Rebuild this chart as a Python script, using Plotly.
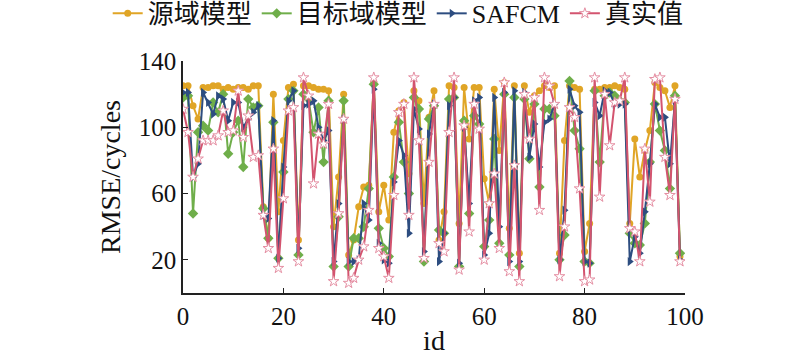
import plotly.graph_objects as go

ids = list(range(100))

src_model = [125,125,113,105,124,124,125,125,123,124,
             123,124,124,123,125,125,52,33,120,49,
             92,124,126,32,125,125,124,123,123,122,
             40,70,120,23,32,52,64,65,127,49,
             65,44,97,110,115,72,122,116,54,106,
             122,32,49,125,124,42,124,93,124,124,
             69,54,123,86,127,39,125,24,125,109,
             119,122,125,124,125,24,92,125,124,123,
             25,42,123,123,124,124,125,124,123,42,
             93,70,86,98,127,124,122,112,125,22]

tgt_model = [118,119,48,97,101,98,115,109,120,84,
             97,104,76,117,112,113,51,33,103,21,
             73,117,122,23,120,117,97,112,79,116,
             16,46,116,16,33,33,40,63,126,39,
             27,22,70,103,79,60,118,111,19,105,
             113,38,36,117,118,16,104,48,107,102,
             28,44,93,30,120,23,118,16,117,81,
             114,64,111,111,107,20,35,128,98,87,
             19,18,122,79,119,121,119,116,115,36,
             30,29,42,79,114,98,86,63,119,24]

safcm = [121,121,70,78,121,115,108,119,117,104,
         115,115,100,105,109,113,47,45,104,21,
         76,116,122,27,113,114,116,100,92,98,
         19,54,105,19,19,20,54,44,123,30,
         20,18,67,92,83,36,111,99,25,96,
         114,19,36,113,118,18,100,54,116,118,
         23,36,118,40,121,19,122,19,121,82,
         102,76,103,105,114,20,50,123,113,109,
         19,18,115,107,122,121,114,114,114,19,
         34,24,49,78,114,106,106,78,116,20]

truth = [111,97,70,81,92,92,92,95,110,97,
         98,122,94,107,82,83,47,27,87,15,
         57,110,112,19,130,119,66,96,90,114,
         7,48,105,6,9,20,28,50,130,27,
         22,9,59,109,114,47,130,92,21,79,
         114,30,25,97,130,14,101,37,114,99,
         20,54,72,27,127,13,77,7,120,93,
         118,50,130,125,114,10,40,112,106,63,
         7,8,130,58,120,89,115,116,130,39,
         37,19,87,55,129,130,82,59,117,19]

names = ["源域模型", "目标域模型", "SAFCM", "真实值"]
x_ticks = [0, 20, 40, 60, 80, 100]
y_ticks = [20, 60, 100, 140]

fig = go.Figure()
fig.add_trace(go.Scatter(x=ids, y=src_model, name=names[0], mode="lines+markers",
                         line=dict(color="#E0A526", width=2),
                         marker=dict(symbol="circle", size=7, color="#E0A526")))
fig.add_trace(go.Scatter(x=ids, y=tgt_model, name=names[1], mode="lines+markers",
                         line=dict(color="#6FAE4A", width=2),
                         marker=dict(symbol="diamond", size=8, color="#6FAE4A")))
fig.add_trace(go.Scatter(x=ids, y=safcm, name=names[2], mode="lines+markers",
                         line=dict(color="#2D4D80", width=2),
                         marker=dict(symbol="triangle-right", size=8, color="#2D4D80")))
fig.add_trace(go.Scatter(x=ids, y=truth, name=names[3], mode="lines+markers",
                         line=dict(color="#D3546F", width=2),
                         marker=dict(symbol="star", size=8, color="white",
                                     line=dict(color="#E58FA3", width=1))))

font_family = "Liberation Serif, Noto Sans CJK SC, serif"
fig.update_layout(
    width=800, height=362,
    margin=dict(l=183, r=115, t=61, b=69, autoexpand=False),
    paper_bgcolor="white", plot_bgcolor="white",
    font=dict(family=font_family, size=25, color="#111"),
    showlegend=True,
    legend=dict(orientation="h", x=-0.15, xanchor="left", y=1.205, yanchor="middle",
                font=dict(size=26, family=font_family), itemwidth=30,
                tracegroupgap=0, bgcolor="rgba(0,0,0,0)"),
    xaxis=dict(range=[0, 100], tickvals=x_ticks, ticks="inside", ticklen=5,
               showgrid=False, zeroline=False, showline=True, linecolor="#222",
               linewidth=1.5, tickcolor="#222", automargin=False,
               title=dict(text="id", font=dict(size=28), standoff=2),
               tickfont=dict(size=25)),
    yaxis=dict(range=[0, 140], tickvals=y_ticks, ticks="inside", ticklen=5,
               showgrid=False, zeroline=False, showline=True, linecolor="#222",
               linewidth=1.5, tickcolor="#222", automargin=False,
               title=dict(text="RMSE/cycles", font=dict(size=28), standoff=10),
               tickfont=dict(size=25)),
)

fig.write_html("out.html", config={"displayModeBar": False},
               post_script="document.body.style.margin='0';document.body.style.overflow='hidden';")
